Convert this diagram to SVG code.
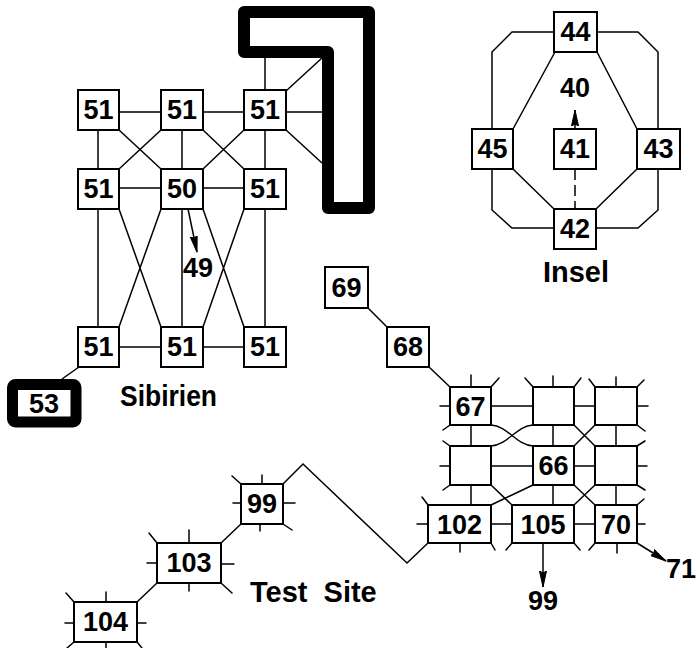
<svg xmlns="http://www.w3.org/2000/svg" width="700" height="648" viewBox="0 0 700 648">
<style>
.box{fill:#fff;stroke:#000;stroke-width:2}
.ln{fill:none;stroke:#000;stroke-width:1.5}
.st{fill:none;stroke:#000;stroke-width:1.5;stroke-linecap:round}
.num{font-family:"Liberation Sans",Arial,sans-serif;font-weight:bold;font-size:27px;text-anchor:middle;fill:#000}
.lbl{font-family:"Liberation Sans",Arial,sans-serif;font-weight:bold;font-size:29px;fill:#000}
</style>
<defs>
<marker id="ah" markerUnits="userSpaceOnUse" markerWidth="18" markerHeight="10" refX="16" refY="4.5" orient="auto">
<path d="M0,1 L16,4.5 L0,8 L2,4.5 Z" fill="#000" stroke="#000" stroke-width="1" stroke-linejoin="round"/>
</marker>
</defs>
<rect width="700" height="648" fill="#fff"/>

<g id="connectors" class="ln">
<path d="M119,112H161M203,112H244M119,188H161M203,188H244M119,347H161M203,347H244"/>
<path d="M98,130V169M182,130V169M265,130V169M98,209V327M182,209V327M265,209V327"/>
<path d="M119,130L161,169M161,130L119,169M203,130L244,169M244,130L203,169"/>
<path d="M119,209L161,327M161,209L119,327M203,209L244,327M244,209L203,327"/>
<path d="M265,90V58M286,91L322,58M286,112H322M286,130L322,163"/>
<path d="M79,367L62,379"/>
<path d="M188,209L197,252" marker-end="url(#ah)"/>
<path d="M555,52L513,129M597,52L637,129M513,169L554,209M637,169L596,209"/>
<path d="M554,32H512L492,52V129M492,169V210L512,228H554M597,32H638L658,52V129M658,169V210L638,228H596"/>
<path d="M575,169V209" stroke-dasharray="11,5"/>
<path d="M575,129V110" marker-end="url(#ah)"/>
<path d="M368,308L387,327M429,367L450,387"/>
<path d="M491,406H533M574,406H595M491,466H533M574,466H595M491,524H512M574,524H595"/>
<path d="M471,425V446M553,425V446M616,425V446M471,485V505M553,485V505M616,485V505"/>
<path d="M491,425C508,426 516,445 533,446M491,446C508,445 516,426 533,425"/>
<path d="M574,425L595,446M595,425L574,446"/>
<path d="M491,485L512,505M533,485L491,505M574,485L595,505M595,485L574,505"/>
<path d="M543,543V587" marker-end="url(#ah)"/>
<path d="M637,543L666,561" marker-end="url(#ah)"/>
<path d="M283,484L303,464L407,563L428,543"/>
<path d="M241,524L221,543M157,583L137,602"/>
</g>

<g id="wall">
<path d="M244,12H369V208H328V52H244Z" fill="none" stroke="#000" stroke-width="12" stroke-linejoin="round"/>
</g>

<g id="s51a"><rect class="box" x="78" y="90" width="41" height="40"/><text class="num" x="98.5" y="119">51</text></g>
<g id="s51b"><rect class="box" x="161" y="90" width="42" height="40"/><text class="num" x="182" y="119">51</text></g>
<g id="s51c"><rect class="box" x="244" y="90" width="42" height="40"/><text class="num" x="265" y="119">51</text></g>
<g id="s51d"><rect class="box" x="78" y="169" width="41" height="40"/><text class="num" x="98.5" y="198">51</text></g>
<g id="s50"><rect class="box" x="161" y="169" width="42" height="40"/><text class="num" x="182" y="198">50</text></g>
<g id="s51e"><rect class="box" x="244" y="169" width="42" height="40"/><text class="num" x="265" y="198">51</text></g>
<g id="s51f"><rect class="box" x="78" y="327" width="41" height="40"/><text class="num" x="98.5" y="356">51</text></g>
<g id="s51g"><rect class="box" x="161" y="327" width="42" height="40"/><text class="num" x="182" y="356">51</text></g>
<g id="s51h"><rect class="box" x="244" y="327" width="42" height="40"/><text class="num" x="265" y="356">51</text></g>
<g id="n49"><text class="num" x="198" y="277">49</text></g>
<g id="n53"><rect x="12.5" y="384.5" width="63.5" height="37.5" rx="3" fill="#fff" stroke="#000" stroke-width="11"/><text class="num" x="44" y="413">53</text></g>
<g id="lbl-sibirien"><text class="lbl" x="120" y="406" textLength="97" lengthAdjust="spacingAndGlyphs">Sibirien</text></g>

<g id="n44"><rect class="box" x="554" y="12" width="43" height="40"/><text class="num" x="575.5" y="41">44</text></g>
<g id="n45"><rect class="box" x="472" y="129" width="41" height="40"/><text class="num" x="492.5" y="158">45</text></g>
<g id="n41"><rect class="box" x="554" y="129" width="42" height="40"/><text class="num" x="575" y="158">41</text></g>
<g id="n43"><rect class="box" x="637" y="129" width="43" height="40"/><text class="num" x="658.5" y="158">43</text></g>
<g id="n42"><rect class="box" x="554" y="209" width="42" height="40"/><text class="num" x="575" y="238">42</text></g>
<g id="n40"><text class="num" x="575" y="97">40</text></g>
<g id="lbl-insel"><text class="lbl" x="576" y="282" text-anchor="middle">Insel</text></g>

<g id="n69"><rect class="box" x="325" y="267" width="43" height="41"/><text class="num" x="346.5" y="297">69</text></g>
<g id="n68"><rect class="box" x="387" y="327" width="42" height="40"/><text class="num" x="408" y="356">68</text></g>

<g id="n67"><rect class="box" x="450" y="387" width="41" height="38"/><text class="num" x="470.5" y="416">67</text>
<path class="st" d="M471,387V375M450,406H440M491,387L499,378M450,425L443,430"/></g>
<g id="g-tm"><rect class="box" x="533" y="387" width="41" height="38"/>
<path class="st" d="M553,387V376M533,387L525,378M574,387L581,378"/></g>
<g id="g-tr"><rect class="box" x="595" y="387" width="42" height="38"/>
<path class="st" d="M616,387V377M595,387L589,379M637,387L644,380M637,406H648M637,425L645,431"/></g>
<g id="g-ml"><rect class="box" x="450" y="446" width="41" height="39"/>
<path class="st" d="M450,446L443,441M450,466H440M450,485L443,490"/></g>
<g id="n66"><rect class="box" x="533" y="446" width="41" height="39"/><text class="num" x="553.5" y="475">66</text></g>
<g id="g-mr"><rect class="box" x="595" y="446" width="42" height="39"/>
<path class="st" d="M637,446L645,441M637,466H647M637,485L645,490"/></g>
<g id="n102"><rect class="box" x="428" y="505" width="63" height="38"/><text class="num" x="459.5" y="534">102</text>
<path class="st" d="M428,505L422,497M428,524H417M460,543V552M491,543L495,550"/></g>
<g id="n105"><rect class="box" x="512" y="505" width="62" height="38"/><text class="num" x="543" y="534">105</text>
<path class="st" d="M512,543L506,550M574,543L580,550"/></g>
<g id="n70"><rect class="box" x="595" y="505" width="42" height="38"/><text class="num" x="616" y="534">70</text>
<path class="st" d="M637,505L644,499M637,524H645M595,543L589,550M617,543V553"/></g>
<g id="n99b"><text class="num" x="543" y="610">99</text></g>
<g id="n71"><text class="num" x="681" y="578">71</text></g>

<g id="n99"><rect class="box" x="241" y="484" width="42" height="40"/><text class="num" x="262" y="513">99</text>
<path class="st" d="M262,484V475M241,484L232,476M241,503H233M283,503H295M283,524L292,530M260,524V531"/></g>
<g id="n103"><rect class="box" x="157" y="543" width="64" height="40"/><text class="num" x="189" y="572">103</text>
<path class="st" d="M189,543V530M157,543L149,533M157,563H147M221,564H234M221,583L232,593M189,583V591"/></g>
<g id="n104"><rect class="box" x="74" y="602" width="63" height="40"/><text class="num" x="105.5" y="631">104</text>
<path class="st" d="M106,602V592M74,602L66,593M74,623H65M137,623H146M74,642L67,648M106,642V648M137,642L142,648"/></g>
<g id="lbl-test"><text class="lbl" x="250" y="602" font-size="28" word-spacing="8">Test Site</text></g>
</svg>
